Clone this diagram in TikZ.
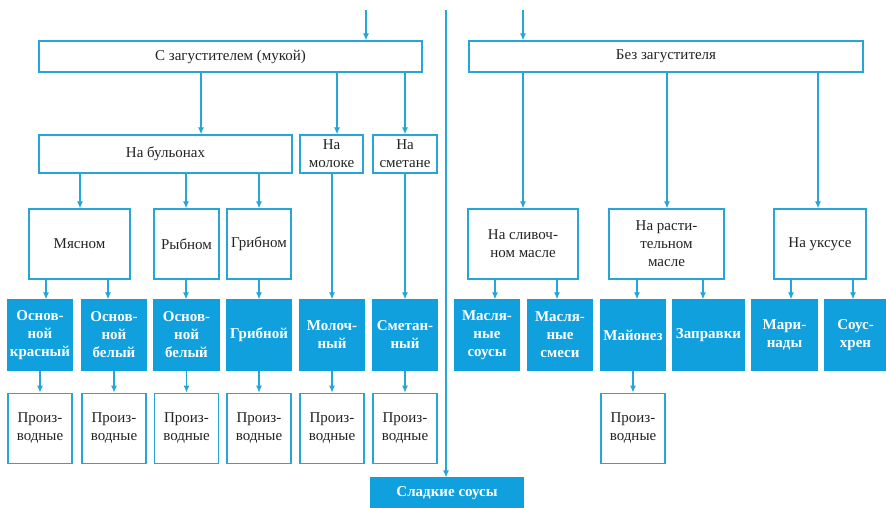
\documentclass[tikz,border=0pt]{standalone}
\usepackage{fontspec}
\setmainfont{Liberation Serif}
\usetikzlibrary{arrows.meta, positioning}
\definecolor{lineblue}{RGB}{38,166,214}
\definecolor{fillblue}{RGB}{16,160,222}
\definecolor{ink}{RGB}{35,35,35}
\tikzstyle{block} = [rectangle, draw=lineblue, line width=1.3pt, align=center, inner sep=1pt, font=\fontsize{15}{18}\selectfont]
\tikzstyle{group} = [block, fill=white, text=ink]
\tikzstyle{kind} = [group, minimum height=70pt]
\tikzstyle{sauce} = [block, draw=fillblue, fill=fillblue, text=white, minimum width=64pt, minimum height=70pt, font=\fontsize{15}{18}\selectfont\bfseries]
\tikzstyle{derived} = [group, minimum width=64pt, minimum height=70pt]
\tikzstyle{link} = [-{Latex[length=7pt, width=6pt]}, draw=lineblue, line width=1.2pt]

\begin{document}
\begin{tikzpicture}[x=1pt, y=-1pt]
    \useasboundingbox (0,0) rectangle (886,508);

    % Entry points.
    \coordinate (in1) at (366,10);
    \coordinate (in2) at (523,10);
    \coordinate (divtop) at (446,10);

    % Thickener.
    \node (thick) [group, minimum width=383pt, minimum height=31pt] at (230.5,56.5) {С загустителем (мукой)};
    \node (nothick) [group, minimum width=394pt, minimum height=31pt] at (666,56.5) {Без загустителя};

    % Bases.
    \node (broth) [group, minimum width=253pt, minimum height=38pt] at (165.5,154) {На бульонах};
    \node (milk) [group, minimum width=63pt, minimum height=38pt] at (331.5,154) {На\\молоке};
    \node (sour) [group, minimum width=64pt, minimum height=38pt] at (405,154) {На\\сметане};

    \node (meat) [kind, minimum width=101pt] at (79.5,244) {Мясном};
    \node (fish) [kind, minimum width=65pt] at (186.5,244) {Рыбном};
    \node (mush) [kind, minimum width=64pt] at (259,244) {Грибном};
    \node (butter) [kind, minimum width=110pt] at (523,244) {На сливоч-\\ном масле};
    \node (veg) [kind, minimum width=115pt] at (666.5,244) {На расти-\\тельном\\масле};
    \node (vinegar) [kind, minimum width=92pt] at (820,244) {На уксусе};

    % Sauces.
    \node (sauce1) [sauce] at (40,335) {Основ-\\ной\\красный};
    \node (sauce2) [sauce] at (114,335) {Основ-\\ной\\белый};
    \node (sauce3) [sauce, minimum width=65pt] at (186.5,335) {Основ-\\ной\\белый};
    \node (sauce4) [sauce] at (259,335) {Грибной};
    \node (sauce5) [sauce] at (332,335) {Молоч-\\ный};
    \node (sauce6) [sauce] at (405,335) {Сметан-\\ный};
    \node (sauce7) [sauce] at (487,335) {Масля-\\ные\\соусы};
    \node (sauce8) [sauce] at (560,335) {Масля-\\ные\\смеси};
    \node (sauce9) [sauce] at (633,335) {Майонез};
    \node (sauce10) [sauce, minimum width=71pt] at (708.5,335) {Заправки};
    \node (sauce11) [sauce, minimum width=65pt] at (784.5,335) {Мари-\\нады};
    \node (sauce12) [sauce, minimum width=61pt] at (855.5,335) {Соус-\\хрен};

    \node (sweet) [sauce, minimum width=152pt, minimum height=30pt] at (447,493) {Сладкие соусы};

    % Derived.
    \foreach \i in {1,2,3,4,5,6,9} {
        \node (deriv\i) [derived, below=22pt of sauce\i] {Произ-\\водные};
        \draw [link] (sauce\i) -- (deriv\i);
    }

    % Arrows.
    \draw [link] (in1) -- (in1 |- thick.north);
    \draw [link] (in2) -- (in2 |- nothick.north);
    \draw [link] (divtop) -- (divtop |- sweet.north);

    \foreach \x/\to in {201/broth, 337/milk, 405/sour} {
        \draw [link] (thick.south -| \x,0) -- (\to.north -| \x,0);
    }
    \foreach \x/\to in {523/butter, 667/veg, 818/vinegar} {
        \draw [link] (nothick.south -| \x,0) -- (\to.north -| \x,0);
    }
    \foreach \x/\to in {80/meat, 186/fish, 259/mush} {
        \draw [link] (broth.south -| \x,0) -- (\to.north -| \x,0);
    }
    \foreach \from/\x/\to in {meat/46/sauce1, meat/108/sauce2, fish/186/sauce3, mush/259/sauce4,
        milk/332/sauce5, sour/405/sauce6, butter/495/sauce7, butter/557/sauce8,
        veg/637/sauce9, veg/703/sauce10, vinegar/791/sauce11, vinegar/853/sauce12} {
        \draw [link] (\from.south -| \x,0) -- (\to.north -| \x,0);
    }
\end{tikzpicture}
\end{document}
